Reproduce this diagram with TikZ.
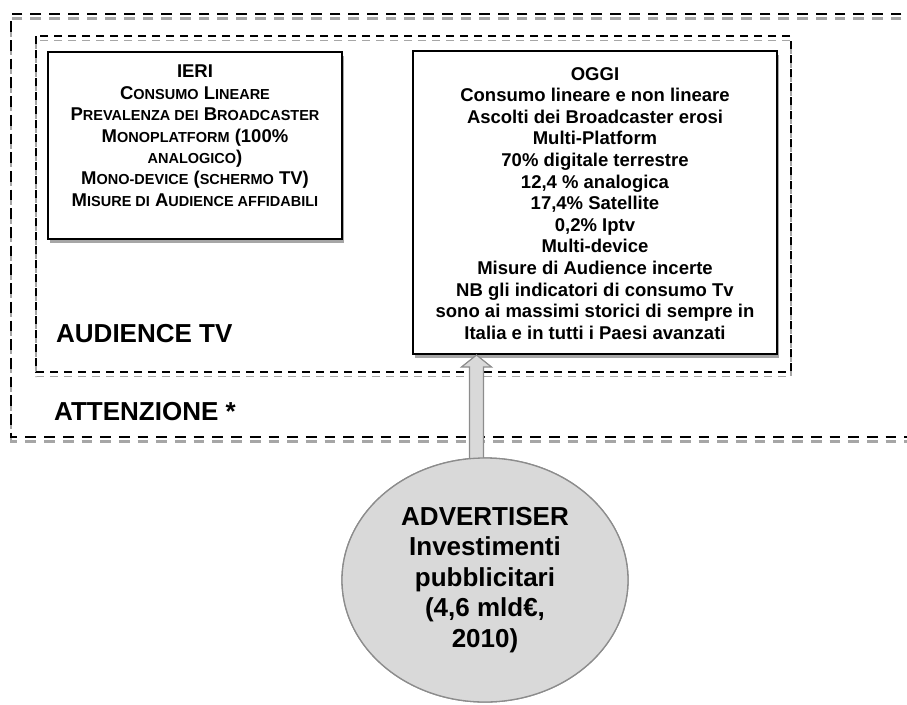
\documentclass[tikz,border=0pt]{standalone}
\usepackage{fontspec}
\setmainfont{Liberation Sans}
\usetikzlibrary{shapes.geometric,calc,shadows}

\definecolor{shadowgray}{HTML}{A6A6A6}
\definecolor{fillgray}{HTML}{D9D9D9}
\definecolor{edgegray}{HTML}{8C8C8C}

% small capitals faked from a smaller upper-case size
\newcommand\sk[1]{{\fontsize{14.5}{21.4}\selectfont #1}}

\tikzset{
  outerframe/.style={line width=2.3pt, dash pattern=on 10.7pt off 8pt},
  innerframe/.style={line width=1.7pt, dash pattern=on 8pt off 6pt},
  frameshadow/.style={draw=shadowgray, yshift=-4.5pt},
  box/.style={draw=black, line width=2pt, fill=white, inner sep=0pt,
    drop shadow={shadow xshift=2pt, shadow yshift=-4pt, fill=shadowgray, opacity=1}},
  boxtext/.style={align=center, inner sep=0pt, font=\bfseries\fontsize{18.5}{21.4}\selectfont},
  oggifont/.style={font=\bfseries\fontsize{18.5}{21.6}\selectfont},
  lbl/.style={inner sep=0pt, font=\bfseries\fontsize{26}{30}\selectfont},
  adv/.style={ellipse, draw=edgegray, line width=1.3pt, fill=fillgray, inner sep=0pt,
    minimum width=286pt, minimum height=244pt, align=center,
    font=\bfseries\fontsize{26}{30.5}\selectfont},
  blockarrow/.style={draw=edgegray, line width=1.2pt, fill=fillgray, line join=miter}
}

\begin{document}
\begin{tikzpicture}[x=1pt,y=-1pt]
\useasboundingbox (0,0) rectangle (907,704);

% outer frame (open on the right), gray shadow first
\draw[outerframe, frameshadow] (920,14) -- (11,14) -- (11,437) -- (920,437);
\draw[outerframe, black] (920,14) -- (11,14) -- (11,437) -- (920,437);
% inner frame
\draw[innerframe, frameshadow] (36,36) rectangle (791,372);
\draw[innerframe, black] (36,36) rectangle (791,372);

% the two boxes
\node[box, minimum width=294pt, minimum height=187pt] (ieri) at (195,145.5) {};
\node[box, minimum width=364pt, minimum height=303pt] (oggi) at (595,202.5) {};

\node[boxtext, anchor=north] (ieritext) at (195,65) {IERI\\
C\sk{ONSUMO} L\sk{INEARE}\\
P\sk{REVALENZA DEI} B\sk{ROADCASTER}\\
M\sk{ONOPLATFORM} (100\%\\
\sk{ANALOGICO})\\
M\sk{ONO-DEVICE} (\sk{SCHERMO} TV)\\
M\sk{ISURE DI} A\sk{UDIENCE AFFIDABILI}};

\node[boxtext, oggifont, anchor=north] (oggitext) at (595,67) {OGGI\\
Consumo lineare e non lineare\\
Ascolti dei Broadcaster erosi\\
Multi-Platform\\
70\% digitale terrestre\\
12,4 \% analogica\\
17,4\% Satellite\\
0,2\% Iptv\\
Multi-device\\
Misure di Audience incerte\\
NB gli indicatori di consumo Tv\\
sono ai massimi storici di sempre in\\
Italia e in tutti i Paesi avanzati};

% frame labels
\node[lbl, anchor=west] (aud) at (56,334) {AUDIENCE TV};
\node[lbl, anchor=west] (att) at (54,412) {ATTENZIONE *};

% advertiser ellipse and block arrow
\node[adv] (advtmp) at (485,580) {};
\path (476.5,0) coordinate (ax);
\coordinate (tip) at (ax |- oggi.south);
\coordinate (tail) at ($(ax |- advtmp.north)+(0,12)$);
\draw[blockarrow] (tip) -- ++(15,12) -- ++(-8,0) -- ($(tail)+(7,0)$)
  -- ($(tail)+(-7,0)$) -- ($(tip)+(-7,12)$) -- ++(-8,0) -- cycle;

\node[adv] (adv) at (485,580) {ADVERTISER\\Investimenti\\pubblicitari\\(4,6 mld€,\\2010)};
\end{tikzpicture}
\end{document}
